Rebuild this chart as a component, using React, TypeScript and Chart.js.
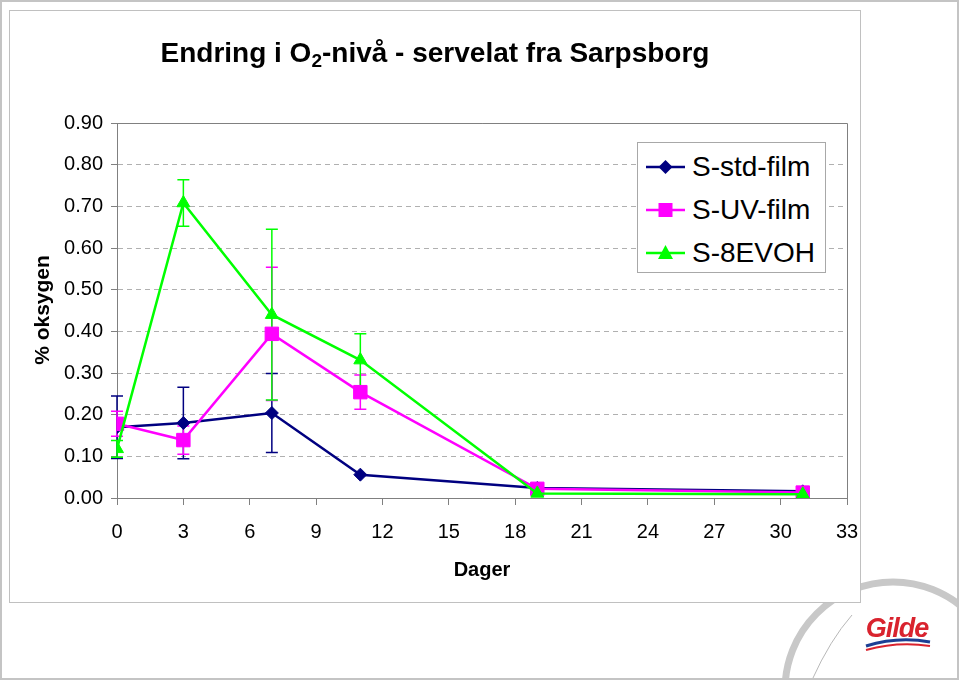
import React, { useEffect, useRef } from "react";
import { Chart, registerables } from "chart.js";

Chart.register(...registerables);

const days = [0, 3, 7, 11, 19, 31];
const stdFilm = [0.17, 0.18, 0.204, 0.056, 0.024, 0.016];
const uvFilm = [0.178, 0.139, 0.394, 0.254, 0.022, 0.013];
const evoh = [0.118, 0.708, 0.44, 0.331, 0.011, 0.009];
const stdErr = [0.075, 0.086, 0.095, 0, 0, 0];
const uvErr = [0.03, 0.034, 0.16, 0.041, 0, 0];
const evohErr = [0.02, 0.056, 0.205, 0.063, 0, 0];
const seriesNames = ["S-std-film", "S-UV-film", "S-8EVOH"];
const seriesColors = ["#000080", "#FF00FF", "#00FF00"];
const yTickMax = 0.9;
const xTickMax = 33;

const FONT = "'Liberation Sans', Arial, sans-serif";

const errorsByDataset = [stdErr, uvErr, evohErr];

const errorBarPlugin = {
  id: "errorBars",
  beforeDatasetsDraw(chart: any) {
    const { ctx, chartArea } = chart;
    const xs = chart.scales.x;
    const ys = chart.scales.y;
    ctx.save();
    // top & right frame of plot area
    ctx.strokeStyle = "#808080";
    ctx.lineWidth = 1;
    ctx.setLineDash([]);
    ctx.beginPath();
    ctx.moveTo(chartArea.left, chartArea.top + 0.5);
    ctx.lineTo(chartArea.right + 0.5, chartArea.top + 0.5);
    ctx.lineTo(chartArea.right + 0.5, chartArea.bottom);
    ctx.stroke();
    chart.data.datasets.forEach((ds: any, i: number) => {
      const errs = errorsByDataset[i];
      ctx.strokeStyle = ds.borderColor;
      ctx.lineWidth = 1.5;
      ds.data.forEach((p: any, j: number) => {
        const e = errs[j];
        if (!e) return;
        const px = xs.getPixelForValue(p.x);
        const yt = ys.getPixelForValue(p.y + e);
        const yb = ys.getPixelForValue(p.y - e);
        ctx.beginPath();
        ctx.moveTo(px, yt);
        ctx.lineTo(px, yb);
        ctx.moveTo(px - 6, yt);
        ctx.lineTo(px + 6, yt);
        ctx.moveTo(px - 6, yb);
        ctx.lineTo(px + 6, yb);
        ctx.stroke();
      });
    });
    ctx.restore();
  },
};

function LegendMarker({ kind, color, cx, cy }: any) {
  if (kind === 0)
    return <polygon points={`${cx},${cy - 7} ${cx + 7},${cy} ${cx},${cy + 7} ${cx - 7},${cy}`} fill={color} />;
  if (kind === 1) return <rect x={cx - 7} y={cy - 7} width={14} height={14} fill={color} />;
  return <polygon points={`${cx},${cy - 8} ${cx + 7.5},${cy + 6} ${cx - 7.5},${cy + 6}`} fill={color} />;
}

export default function App() {
  const ref = useRef<HTMLCanvasElement>(null);
  useEffect(() => {
    if (!ref.current) return;
    const mk = (vals: number[]) => days.map((d, i) => ({ x: d, y: vals[i] }));
    const chart = new Chart(ref.current, {
      type: "line",
      data: {
        datasets: [
          {
            label: seriesNames[0],
            data: mk(stdFilm),
            borderColor: seriesColors[0],
            backgroundColor: seriesColors[0],
            pointStyle: "rectRot",
            pointRadius: 6.5,
            pointBorderWidth: 1,
            borderWidth: 2.5,
            order: 2,
          },
          {
            label: seriesNames[1],
            data: mk(uvFilm),
            borderColor: seriesColors[1],
            backgroundColor: seriesColors[1],
            pointStyle: "rect",
            pointRadius: 9.5,
            pointBorderWidth: 1,
            borderWidth: 2.5,
            order: 1,
          },
          {
            label: seriesNames[2],
            data: mk(evoh),
            borderColor: seriesColors[2],
            backgroundColor: seriesColors[2],
            pointStyle: "triangle",
            pointRadius: 7.5,
            pointBorderWidth: 1,
            borderWidth: 2.5,
            order: 0,
          },
        ],
      },
      options: {
        responsive: false,
        animation: false,
        devicePixelRatio: 1,
        layout: { padding: { left: 0, top: 123, right: 112, bottom: 0 } },
        plugins: { legend: { display: false }, tooltip: { enabled: false }, title: { display: false } },
        elements: { line: { tension: 0 } },
        scales: {
          x: {
            type: "linear",
            min: 0,
            max: xTickMax,
            afterFit: (s: any) => {
              s.height = 182;
            },
            ticks: {
              stepSize: 3,
              color: "#000",
              padding: 15,
              maxRotation: 0,
              font: { family: FONT, size: 20 },
              callback: (v: any) => String(v),
            },
            grid: { drawOnChartArea: false, drawTicks: true, tickLength: 7, color: "#808080", tickColor: "#808080" },
            border: { color: "#808080", width: 1 },
          },
          y: {
            min: 0,
            max: yTickMax,
            afterFit: (s: any) => {
              s.width = 117;
            },
            ticks: {
              stepSize: 0.1,
              color: "#000",
              padding: 8,
              font: { family: FONT, size: 20 },
              callback: (v: any) => Number(v).toFixed(2),
            },
            grid: {
              color: "#b0b0b0",
              tickBorderDash: [],
              tickColor: "#808080",
              tickLength: 6,
              lineWidth: 1,
            },
            border: { color: "#808080", width: 1, dash: [5, 4] },
          },
        },
      },
      plugins: [errorBarPlugin],
    } as any);
    return () => chart.destroy();
  }, []);

  const rows = [167, 210, 253];

  return (
    <div
      style={{
        position: "fixed",
        left: 0,
        top: 0,
        width: 959,
        height: 680,
        overflow: "hidden",
        background: "#fff",
        fontFamily: FONT,
      }}
    >
      {/* logo arc behind panel */}
      <svg width={959} height={680} style={{ position: "absolute", left: 0, top: 0 }}>
        <circle cx={893} cy={690} r={108} fill="none" stroke="#c8c8c8" strokeWidth={7} />
        <path d="M 812 680 Q 830 640 852 615" fill="none" stroke="#b8b8b8" strokeWidth={1} />
        <path d="M 866 646 Q 898 636 930 642" fill="none" stroke="#1c3f94" strokeWidth={3} />
        <path d="M 866 650 Q 898 641 930 646" fill="none" stroke="#d9232e" strokeWidth={2} />
      </svg>
      {/* outer frame */}
      <div
        style={{
          position: "absolute",
          left: 0,
          top: 0,
          width: 959,
          height: 680,
          boxSizing: "border-box",
          border: "2px solid #c4c4c4",
        }}
      />
      {/* panel */}
      <div
        style={{
          position: "absolute",
          left: 9,
          top: 10,
          width: 852,
          height: 593,
          boxSizing: "border-box",
          border: "1px solid #c0c0c0",
          background: "#fff",
        }}
      />
      <canvas
        ref={ref}
        width={959}
        height={680}
        style={{ position: "absolute", left: 0, top: 0, width: 959, height: 680 }}
      />
      {/* title */}
      <div
        style={{
          position: "absolute",
          left: 0,
          top: 39,
          width: 870,
          textAlign: "center",
          fontSize: 28,
          lineHeight: "28px",
          fontWeight: "bold",
          color: "#000",
          whiteSpace: "nowrap",
        }}
      >
        Endring i O<span style={{ fontSize: 19, verticalAlign: "-5px" }}>2</span>-nivå - servelat fra Sarpsborg
      </div>
      {/* y axis title */}
      <div
        style={{
          position: "absolute",
          left: 42 - 80,
          top: 310 - 12,
          width: 160,
          height: 24,
          lineHeight: "24px",
          textAlign: "center",
          fontSize: 21,
          fontWeight: "bold",
          transform: "rotate(-90deg)",
          whiteSpace: "nowrap",
        }}
      >
        % oksygen
      </div>
      {/* x axis title */}
      <div
        style={{
          position: "absolute",
          left: 482 - 80,
          top: 569 - 12,
          width: 160,
          height: 24,
          lineHeight: "24px",
          textAlign: "center",
          fontSize: 20,
          fontWeight: "bold",
        }}
      >
        Dager
      </div>
      {/* legend */}
      <div
        style={{
          position: "absolute",
          left: 637,
          top: 142,
          width: 189,
          height: 131,
          boxSizing: "border-box",
          border: "1px solid #a8a8a8",
          background: "#fff",
        }}
      />
      <svg width={959} height={680} style={{ position: "absolute", left: 0, top: 0, pointerEvents: "none" }}>
        {rows.map((y, i) => (
          <g key={i}>
            <line x1={646} y1={y} x2={685} y2={y} stroke={seriesColors[i]} strokeWidth={2.5} />
            <LegendMarker kind={i} color={seriesColors[i]} cx={665.5} cy={y} />
          </g>
        ))}
      </svg>
      {rows.map((y, i) => (
        <div
          key={i}
          style={{
            position: "absolute",
            left: 692,
            top: y - 16,
            height: 32,
            lineHeight: "32px",
            fontSize: 28,
            color: "#000",
            whiteSpace: "nowrap",
          }}
        >
          {seriesNames[i]}
        </div>
      ))}
      {/* logo text */}
      <div
        style={{
          position: "absolute",
          left: 897 - 50,
          top: 614,
          width: 100,
          textAlign: "center",
          fontSize: 27,
          lineHeight: "28px",
          fontWeight: "bold",
          fontStyle: "italic",
          color: "#d9232e",
          letterSpacing: "-1px",
        }}
      >
        Gilde
      </div>
    </div>
  );
}
